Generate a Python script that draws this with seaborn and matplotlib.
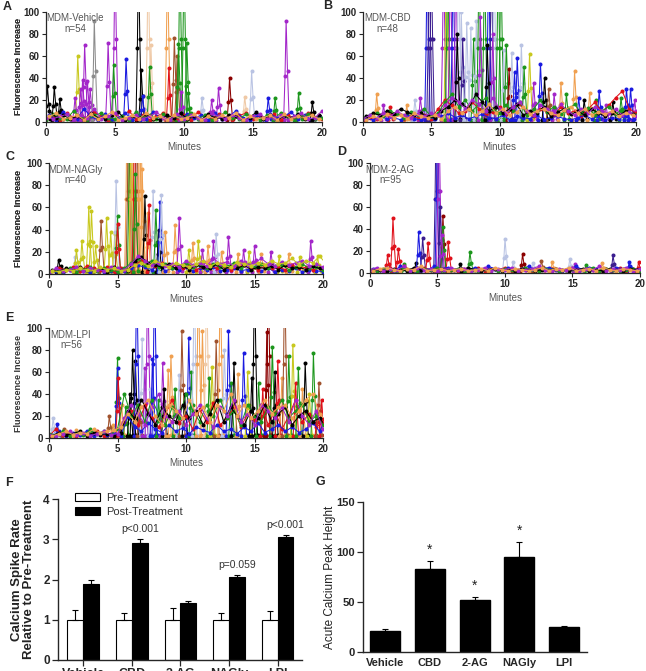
import numpy as np
import pandas as pd
import matplotlib
matplotlib.use('Agg')
import matplotlib.pyplot as plt
import seaborn as sns

sns.set_style('ticks')
plt.rcParams['font.family'] = ['Liberation Sans', 'DejaVu Sans']

# === COLOURS (GraphPad trace palette) ===
K, R, B, G, P = 'black', '#e0101a', '#1a1ae0', '#1c961c', '#a326c9'
O, Y, L, N, D = '#f0a050', '#c8c81e', '#b9c3e3', '#a0522d', '#8b0000'
S, V, W = '#efc9a6', '#3b1d8f', '#8c8c8c'

# === DATA: calcium traces ===
# baseline traces sampled every 0.5 min (odd traces sit half a step later)
minutes_grid = np.arange(41) * 0.5

noise_A = [
    [3, 5, 2, 8, 4, 6, 3, 9, 5, 2, 7, 4, 10, 3, 6, 2, 5, 8, 3, 4, 6, 2, 9, 5, 3, 7, 4, 2, 6, 8, 3, 5, 4, 7, 2, 6, 3, 5, 8, 4, 3],
    [6, 2, 9, 4, 3, 12, 5, 2, 7, 3, 4, 8, 2, 6, 3, 9, 4, 2, 5, 3, 7, 4, 6, 2, 8, 3, 5, 10, 4, 2, 6, 3, 7, 4, 5, 9, 3, 6, 2, 4, 7],
    [2, 7, 4, 3, 10, 5, 2, 6, 8, 4, 3, 5, 2, 9, 4, 6, 3, 7, 2, 5, 4, 8, 3, 6, 2, 5, 9, 4, 3, 7, 5, 2, 6, 3, 8, 4, 2, 5, 7, 3, 4],
    [10, 4, 6, 3, 5, 2, 8, 4, 3, 6, 9, 2, 5, 4, 7, 3, 2, 6, 4, 8, 3, 5, 2, 7, 4, 3, 6, 5, 2, 4, 9, 3, 6, 2, 5, 4, 7, 3, 2, 6, 5],
    [4, 3, 5, 7, 2, 6, 4, 12, 3, 5, 8, 2, 4, 6, 3, 5, 9, 4, 2, 7, 3, 6, 4, 2, 8, 5, 3, 6, 4, 2, 5, 7, 3, 4, 6, 2, 5, 8, 3, 4, 10],
    [5, 8, 3, 4, 6, 2, 7, 3, 5, 9, 2, 4, 6, 3, 8, 4, 5, 2, 6, 3, 4, 7, 2, 5, 3, 6, 4, 8, 2, 5, 3, 4, 6, 2, 7, 3, 5, 4, 6, 3, 2],
]
noise_B = [
    [2, 4, 3, 6, 5, 8, 3, 5, 4, 6, 3, 12, 20, 15, 8, 10, 18, 12, 6, 9, 14, 7, 11, 16, 8, 5, 12, 9, 6, 14, 8, 10, 5, 12, 18, 9, 15, 22, 28, 12, 8],
    [3, 2, 5, 3, 4, 2, 6, 3, 2, 4, 3, 5, 8, 4, 6, 3, 5, 7, 4, 3, 6, 2, 5, 4, 3, 6, 2, 4, 5, 3, 2, 4, 6, 3, 5, 2, 4, 3, 5, 2, 3],
    [4, 6, 8, 5, 10, 7, 4, 9, 6, 12, 5, 8, 18, 25, 14, 20, 10, 16, 22, 12, 8, 15, 10, 18, 6, 12, 20, 9, 14, 7, 11, 16, 8, 13, 6, 10, 14, 7, 12, 9, 6],
    [5, 8, 6, 10, 7, 12, 9, 6, 8, 5, 4, 10, 14, 20, 16, 12, 25, 18, 10, 14, 8, 12, 16, 6, 10, 8, 14, 5, 9, 12, 7, 10, 6, 12, 8, 5, 9, 6, 10, 7, 5],
    [3, 6, 4, 8, 5, 10, 6, 4, 7, 5, 8, 6, 15, 22, 18, 12, 20, 16, 10, 22, 12, 8, 14, 18, 10, 6, 15, 12, 8, 16, 10, 6, 12, 8, 14, 10, 8, 12, 6, 9, 5],
    [2, 5, 3, 7, 4, 6, 3, 8, 5, 4, 6, 3, 10, 14, 8, 12, 6, 10, 16, 8, 12, 6, 9, 14, 7, 10, 12, 8, 6, 11, 14, 8, 12, 6, 9, 7, 10, 5, 8, 6, 4],
]
noise_C = [
    [1, 3, 2, 4, 2, 3, 1, 4, 2, 3, 2, 3, 5, 8, 6, 4, 7, 3, 5, 4, 6, 3, 5, 4, 6, 3, 4, 5, 3, 4, 6, 3, 5, 2, 4, 3, 5, 2, 4, 3, 2],
    [3, 5, 4, 6, 3, 7, 5, 4, 6, 3, 5, 4, 8, 12, 9, 7, 10, 6, 8, 5, 7, 4, 6, 8, 5, 7, 4, 6, 8, 5, 4, 7, 5, 6, 4, 8, 5, 6, 4, 5, 3],
    [2, 4, 3, 5, 2, 4, 6, 3, 5, 4, 2, 5, 10, 14, 8, 12, 6, 9, 5, 7, 10, 6, 8, 5, 9, 6, 7, 10, 5, 8, 6, 9, 5, 7, 8, 4, 6, 9, 5, 6, 4],
    [4, 2, 5, 3, 6, 4, 3, 5, 2, 6, 4, 3, 12, 15, 10, 8, 6, 9, 5, 7, 4, 8, 6, 5, 9, 4, 7, 5, 8, 4, 6, 5, 7, 4, 8, 5, 6, 4, 7, 5, 4],
    [2, 5, 3, 4, 6, 3, 5, 4, 3, 6, 5, 4, 9, 16, 12, 8, 10, 7, 9, 6, 12, 8, 10, 7, 14, 9, 11, 7, 12, 8, 10, 14, 9, 7, 11, 8, 10, 12, 7, 9, 6],
    [3, 2, 4, 3, 5, 4, 3, 6, 4, 5, 3, 4, 8, 10, 7, 12, 9, 6, 10, 8, 6, 9, 12, 7, 10, 8, 6, 11, 9, 7, 10, 8, 12, 9, 10, 14, 8, 12, 10, 16, 9],
]
noise_D = [
    [2, 4, 3, 5, 2, 6, 3, 4, 5, 3, 2, 4, 3, 2, 4, 3, 5, 2, 4, 3, 5, 2, 3, 4, 2, 5, 3, 4, 2, 3, 5, 2, 4, 3, 2, 4, 3, 5, 2, 4, 3],
    [4, 3, 5, 2, 6, 3, 4, 5, 3, 6, 4, 5, 3, 4, 2, 5, 3, 6, 4, 3, 5, 2, 4, 6, 3, 4, 5, 3, 2, 4, 6, 3, 5, 4, 2, 3, 5, 4, 6, 3, 5],
    [3, 2, 4, 3, 2, 5, 3, 2, 4, 3, 5, 2, 3, 4, 2, 3, 2, 4, 3, 2, 4, 3, 2, 5, 3, 2, 4, 3, 2, 3, 4, 2, 3, 5, 2, 4, 3, 2, 3, 4, 2],
    [2, 3, 2, 4, 3, 2, 5, 3, 2, 3, 4, 2, 3, 2, 5, 3, 2, 3, 4, 2, 3, 2, 4, 3, 2, 3, 2, 4, 3, 2, 3, 4, 2, 3, 2, 4, 3, 2, 4, 3, 2],
    [3, 5, 2, 4, 3, 6, 2, 5, 3, 4, 2, 3, 5, 3, 4, 2, 3, 5, 2, 4, 3, 5, 2, 3, 4, 6, 3, 2, 4, 3, 5, 2, 4, 3, 6, 2, 4, 3, 5, 2, 4],
    [2, 4, 5, 3, 2, 4, 3, 6, 2, 3, 4, 2, 3, 4, 2, 3, 4, 2, 5, 3, 2, 4, 3, 2, 3, 5, 2, 4, 3, 5, 2, 3, 4, 2, 5, 3, 2, 4, 3, 2, 3],
]
noise_E = [
    [2, 8, 3, 5, 2, 4, 3, 6, 2, 4, 3, 15, 25, 12, 30, 18, 10, 22, 35, 14, 20, 8, 26, 15, 32, 12, 18, 28, 10, 22, 16, 30, 12, 25, 8, 20, 35, 15, 22, 10, 14],
    [3, 4, 2, 5, 3, 6, 2, 4, 3, 5, 2, 20, 10, 6, 14, 8, 5, 12, 6, 9, 4, 10, 7, 5, 12, 6, 8, 4, 10, 6, 14, 5, 8, 12, 6, 10, 5, 8, 14, 6, 20],
    [4, 3, 6, 2, 5, 3, 7, 4, 6, 3, 8, 40, 20, 30, 15, 35, 22, 12, 28, 18, 40, 25, 15, 30, 20, 35, 18, 25, 12, 30, 20, 15, 28, 22, 35, 18, 25, 30, 15, 20, 12],
    [2, 5, 3, 4, 6, 2, 5, 3, 4, 2, 5, 25, 18, 35, 22, 12, 28, 20, 15, 30, 18, 25, 12, 22, 35, 15, 28, 20, 12, 25, 18, 30, 15, 22, 28, 12, 20, 25, 15, 18, 10],
    [3, 2, 4, 6, 3, 5, 2, 4, 6, 3, 4, 18, 30, 22, 12, 28, 40, 20, 15, 25, 12, 22, 30, 18, 10, 28, 20, 35, 15, 22, 12, 30, 25, 18, 28, 15, 35, 20, 12, 25, 8],
    [2, 4, 6, 3, 5, 4, 8, 5, 6, 7, 10, 22, 15, 28, 35, 20, 12, 30, 25, 18, 35, 22, 28, 15, 30, 25, 40, 20, 30, 18, 25, 35, 22, 28, 30, 18, 25, 35, 40, 22, 15],
]
noise_colors = [R, B, G, K, P, O]
noise_colors_C = [B, R, G, K, P, Y]

# individual spikes: (minute, peak); 150 = off the top of the scale
spikes_A = [(0.1, 33), (0.6, 32), (1.0, 21), (2.3, 60), (2.1, 22), (2.5, 30), (2.65, 38), (2.8, 70),
            (3.0, 37), (3.2, 30), (3.5, 92), (4.5, 72), (5.0, 150), (4.9, 52), (5.8, 57), (6.7, 150),
            (6.9, 47), (7.0, 24), (7.4, 150), (7.6, 70), (7.5, 50), (8.8, 150), (8.9, 49), (9.3, 76),
            (9.5, 60), (9.7, 150), (9.6, 71), (10.0, 150), (10.2, 72), (9.8, 27), (10.3, 26), (11.3, 22),
            (12.0, 20), (12.5, 31), (13.3, 40), (14.4, 23), (14.9, 46), (16.1, 22), (16.6, 22), (17.4, 92),
            (18.3, 26), (19.3, 18)]
spike_colors_A = [K, K, K, Y, P, P, P, P, P, P, W, P, P, G, B, K, K, B, S, S, G, O, R, N,
                  N, G, G, G, G, P, G, L, P, P, D, S, L, B, G, P, G, K]

spikes_B = [(1.0, 25), (1.5, 15), (2.0, 14), (3.2, 15), (3.8, 20), (4.2, 22), (4.7, 150), (4.85, 150),
            (5.0, 150), (5.9, 150), (6.1, 150), (6.2, 150), (6.4, 150), (6.6, 150), (6.8, 150), (7.0, 150),
            (7.2, 100), (6.9, 80), (7.3, 75), (7.6, 90), (7.9, 85), (8.1, 75), (8.3, 92), (8.5, 150),
            (8.6, 95), (8.9, 150), (9.2, 150), (9.4, 150), (9.6, 150), (9.9, 150), (10.1, 150), (9.1, 70),
            (9.5, 80), (10.3, 65), (10.5, 70), (10.7, 48), (10.9, 63), (11.1, 45), (11.3, 58), (11.6, 70),
            (11.8, 50), (12.2, 62), (12.5, 35), (13.0, 53), (13.3, 40), (13.6, 30), (14.0, 25), (14.5, 35),
            (14.9, 25), (15.5, 46), (15.8, 22), (16.2, 20), (16.6, 26), (17.1, 20), (17.3, 28), (17.8, 15),
            (18.3, 18), (18.9, 22), (19.3, 30), (19.6, 30), (19.9, 20)]
spike_colors_B = [O, P, R, O, L, P, B, V, V, P, Y, G, P, B, P, L, L, K, V, L, L, G, L, G,
                  P, G, B, V, L, G, G, K, P, L, G, D, L, B, B, L, G, Y, P, B, K, N, P, O,
                  G, O, B, K, O, G, B, P, K, G, B, B, P]

spikes_C = [(0.7, 13), (0.9, 7), (1.9, 15), (2.0, 22), (2.4, 30), (2.9, 60), (3.1, 57), (3.4, 25),
            (3.8, 48), (4.2, 50), (4.5, 38), (4.8, 36), (4.9, 84), (5.0, 52), (5.0, 45), (5.7, 150),
            (5.8, 150), (5.9, 150), (6.0, 150), (6.1, 150), (6.25, 150), (6.4, 150), (6.6, 150), (6.7, 150),
            (6.8, 95), (6.3, 90), (7.0, 70), (7.2, 55), (7.3, 62), (7.6, 75), (7.8, 58), (8.0, 40),
            (8.1, 65), (8.2, 71), (8.5, 38), (9.2, 44), (9.5, 50), (10.2, 22), (10.5, 28), (10.9, 30),
            (11.2, 22), (11.6, 25), (12.0, 30), (12.2, 36), (12.6, 20), (13.1, 33), (13.8, 18), (14.2, 22),
            (14.6, 20), (15.0, 25), (15.5, 18), (16.2, 20), (16.8, 16), (17.5, 18), (18.3, 15), (19.1, 30),
            (19.6, 16)]
spike_colors_C = [K, K, L, Y, Y, Y, Y, Y, N, Y, Y, Y, L, G, R, O, N, G, Y, O, R, N, O, O,
                  O, G, K, O, R, L, G, K, B, L, O, O, P, Y, O, Y, P, O, P, L, O, P, O, P,
                  Y, P, O, P, Y, O, Y, P, Y]

spikes_D = [(1.3, 16), (1.7, 50), (2.1, 22), (2.5, 8), (3.4, 9), (3.6, 37), (3.9, 32), (4.3, 27),
            (4.9, 150), (5.0, 150), (5.1, 150), (5.2, 60), (5.4, 52), (5.4, 42), (5.3, 35), (5.8, 28),
            (6.7, 8), (7.4, 19), (10.0, 31), (10.6, 10), (11.3, 17), (12.1, 9), (12.7, 11), (13.5, 10),
            (14.8, 13), (15.2, 8), (16.0, 7), (17.2, 9), (18.0, 16), (19.2, 10), (19.9, 10)]
spike_colors_D = [R, R, R, G, K, B, V, R, V, B, P, V, D, G, P, R, K, G, L, L, D, L, N, O,
                  L, P, G, O, V, B, R]

spikes_E = [(0.6, 13), (0.3, 18), (1.1, 8), (2.0, 7), (3.0, 8), (4.4, 20), (4.7, 12), (5.0, 73),
            (5.0, 64), (5.05, 55), (5.3, 30), (5.6, 28), (5.9, 40), (6.1, 80), (6.3, 70), (6.4, 150),
            (6.8, 90), (6.6, 30), (7.0, 64), (7.2, 150), (7.4, 45), (7.55, 72), (7.7, 150), (8.0, 35),
            (8.3, 68), (8.4, 45), (8.7, 62), (8.9, 75), (9.2, 45), (9.5, 57), (9.7, 97), (9.9, 40),
            (10.2, 91), (10.4, 60), (10.6, 150), (10.9, 150), (11.2, 97), (11.5, 150), (11.7, 55), (11.9, 65),
            (12.2, 88), (12.5, 150), (12.8, 80), (13.1, 97), (13.3, 50), (13.5, 68), (13.8, 58), (14.2, 77),
            (14.5, 60), (14.8, 55), (15.0, 150), (15.3, 50), (15.6, 45), (15.9, 96), (16.0, 150), (16.3, 83),
            (16.5, 60), (16.7, 70), (17.0, 55), (17.2, 150), (17.5, 75), (17.8, 85), (18.0, 50), (18.2, 64),
            (18.5, 45), (18.7, 68), (19.0, 40), (19.3, 77), (19.6, 30), (19.7, 50), (19.9, 35)]
spike_colors_E = [B, L, N, O, G, N, O, G, B, R, O, G, K, K, K, B, L, N, P, P, L, B, B, G,
                  P, K, O, O, G, L, N, K, B, G, L, O, O, S, G, Y, N, O, L, B, G, K, O, B,
                  Y, K, K, G, R, D, D, G, K, R, O, N, G, Y, R, G, O, K, Y, G, R, N, R]

trace_panels = [
    ('A', 'MDM-Vehicle', 54, noise_A, noise_colors, spikes_A, spike_colors_A),
    ('B', 'MDM-CBD', 48, noise_B, noise_colors, spikes_B, spike_colors_B),
    ('C', 'MDM-NAGly', 40, noise_C, noise_colors_C, spikes_C, spike_colors_C),
    ('D', 'MDM-2-AG', 95, noise_D, noise_colors, spikes_D, spike_colors_D),
    ('E', 'MDM-LPI', 56, noise_E, noise_colors, spikes_E, spike_colors_E),
]

# === DATA: summary bars ===
treatments = ['Vehicle', 'CBD', '2-AG', 'NAGly', 'LPI']
pre_rate = [1.0, 1.0, 1.0, 1.0, 1.0]
pre_sem = [0.25, 0.18, 0.29, 0.18, 0.22]
post_rate = [1.88, 2.90, 1.41, 2.05, 3.05]
post_sem = [0.11, 0.10, 0.06, 0.07, 0.06]
p_labels = ['', 'p<0.001', '', 'p=0.059', 'p<0.001']

peak_height = [21, 83, 52, 95, 25]
peak_sem = [2, 8, 3, 15, 1.5]
peak_sig = [False, True, True, True, False]

# === LAYOUT (pixels: left, top, right, bottom) ===
FW, FH = 646, 671
fig = plt.figure(figsize=(FW / 100, FH / 100), dpi=100)


def add_axes(l, t, r, b):
    return fig.add_axes([l / FW, 1 - b / FH, (r - l) / FW, (b - t) / FH])


trace_boxes = {'A': (46, 11.7, 322, 122), 'B': (363, 11.7, 636, 122),
               'C': (49, 163, 323, 274), 'D': (370, 163, 640, 273),
               'E': (49, 328, 323, 438)}
letter_pos = {'A': (3, 7), 'B': (323, 6), 'C': (5, 157), 'D': (337, 152),
              'E': (5, 318), 'F': (5, 483), 'G': (315, 482)}
label_x = {'A': 0.105, 'B': 0.09, 'C': 0.095, 'D': 0.075, 'E': 0.08}

spike_offsets = [-0.18, -0.08, 0.0, 0.1, 0.22]


def trace_frame(noise, noise_cols, spikes, spike_cols):
    rows, pal = [], {}
    for k, ((t, h), c) in enumerate(zip(spikes, spike_cols)):
        name = f's{k}'
        for dt, v in zip(spike_offsets, [2, 0.45 * h, h, 0.5 * h, 3]):
            rows.append((t + dt, v, name))
        pal[name] = c
    for i, (vals, c) in enumerate(zip(noise, noise_cols)):
        name = f'n{i}'
        shift = 0.25 if i % 2 else 0.0
        for t, v in zip(minutes_grid + shift, vals):
            rows.append((t, v, name))
        pal[name] = c
    return pd.DataFrame(rows, columns=['minutes', 'value', 'trace']), pal


def bold_ticks(ax):
    for lbl in ax.get_xticklabels() + ax.get_yticklabels():
        lbl.set_fontweight('bold')


for key, title, n, noise, ncols, spikes, scols in trace_panels:
    l, t, r, b = trace_boxes[key]
    ax = add_axes(l, t, r, b)
    df, pal = trace_frame(noise, ncols, spikes, scols)
    sns.lineplot(data=df, x='minutes', y='value', hue='trace', units='trace',
                 estimator=None, palette=pal, hue_order=list(pal), sort=False,
                 marker='o', markersize=2.9, markeredgewidth=0, linewidth=0.75,
                 legend=False, ax=ax)
    ax.set_xlim(0, 20)
    ax.set_ylim(0, 100)
    ax.set_xticks([0, 5, 10, 15, 20])
    ax.set_yticks(range(0, 101, 20))
    ax.tick_params(labelsize=7, length=3, width=0.8, pad=1.5)
    ax.set_xlabel('Minutes', fontsize=7, color='#555555', labelpad=3)
    ax.set_ylabel('Fluorescence Increase', fontsize=6.5, fontweight='bold', color='#333333')
    ax.yaxis.set_label_coords(-(l - 23) / (r - l), 0.5)
    ax.text(label_x[key], 0.985, f'{title}\nn={n}', transform=ax.transAxes,
            ha='center', va='top', fontsize=7, color='#555555', linespacing=1.1)
    sns.despine(ax=ax)
    for s in ax.spines.values():
        s.set_linewidth(0.9)
    bold_ticks(ax)

# === PANEL F: spike rate ===
axf = add_axes(58, 499, 302, 660)
rate_df = pd.DataFrame({
    'treatment': treatments * 2,
    'phase': ['Pre-Treatment'] * 5 + ['Post-Treatment'] * 5,
    'rate': pre_rate + post_rate,
})
sns.barplot(data=rate_df, x='treatment', y='rate', hue='phase',
            palette={'Pre-Treatment': 'white', 'Post-Treatment': 'black'},
            edgecolor='black', linewidth=0.8, width=0.65, errorbar=None, ax=axf)
for cont, sems in zip(axf.containers, [pre_sem, post_sem]):
    for bar, e in zip(cont, sems):
        x = bar.get_x() + bar.get_width() / 2
        axf.errorbar(x, bar.get_height(), yerr=[[0], [e]], color='black',
                     elinewidth=0.8, capsize=2.5, capthick=0.8)
post_bars = axf.containers[1]
for bar, e, txt in zip(post_bars, post_sem, p_labels):
    if txt:
        axf.text(bar.get_x() + bar.get_width() / 2, bar.get_height() + e + 0.12, txt,
                 ha='center', va='bottom', fontsize=7.5, color='#333333')
axf.set_xlim(-0.52, 4.5)
axf.set_ylim(0, 4)
axf.set_yticks([0, 1, 2, 3, 4])
axf.set_xlabel('')
axf.set_ylabel('Calcium Spike Rate\nRelative to Pre-Treatment', fontsize=9.5,
               fontweight='bold', color='#222222', linespacing=1.0)
axf.yaxis.set_label_coords(-(58 - 35) / 244, 0.5)
axf.tick_params(axis='y', labelsize=8.5, length=4, width=0.9, pad=2)
axf.tick_params(axis='x', labelsize=9, length=4, width=0.9, pad=2)
handles, labels = axf.get_legend_handles_labels()
axf.legend(handles, labels, loc='upper left', bbox_to_anchor=(0.03, 1.1), frameon=False,
           fontsize=8, handlelength=2.2, handleheight=0.7, labelspacing=0.35,
           handletextpad=0.6, labelcolor='#333333')
sns.despine(ax=axf)
for s in axf.spines.values():
    s.set_linewidth(1.0)
bold_ticks(axf)

# === PANEL G: peak height ===
axg = add_axes(363, 502, 587, 652)
peak_df = pd.DataFrame({'treatment': treatments, 'peak': peak_height})
sns.barplot(data=peak_df, x='treatment', y='peak', color='black', edgecolor='black',
            width=0.67, errorbar=None, ax=axg)
for bar, e, sig in zip(axg.containers[0], peak_sem, peak_sig):
    x = bar.get_x() + bar.get_width() / 2
    top = bar.get_height() + e
    axg.errorbar(x, bar.get_height(), yerr=[[0], [e]], color='black',
                 elinewidth=0.8, capsize=2.5, capthick=0.8)
    if sig:
        axg.text(x, top + 4, '*', ha='center', va='bottom', fontsize=10, color='#222222')
axg.set_xlim(-0.49, 4.51)
axg.set_ylim(0, 150)
axg.set_yticks([0, 50, 100, 150])
axg.set_xlabel('')
axg.set_ylabel('Acute Calcium Peak Height', fontsize=8.5, color='#222222')
axg.yaxis.set_label_coords(-(363 - 336) / 224, 0.5)
axg.tick_params(axis='y', labelsize=8, length=4, width=0.9, pad=2)
axg.tick_params(axis='x', labelsize=8, length=0, pad=4)
sns.despine(ax=axg)
for s in axg.spines.values():
    s.set_linewidth(1.0)
bold_ticks(axg)

for key, (x, y) in letter_pos.items():
    fig.text(x / FW, 1 - y / FH, key, ha='left', va='center', fontsize=9,
             fontweight='bold')

fig.savefig('out.png', dpi=100)
